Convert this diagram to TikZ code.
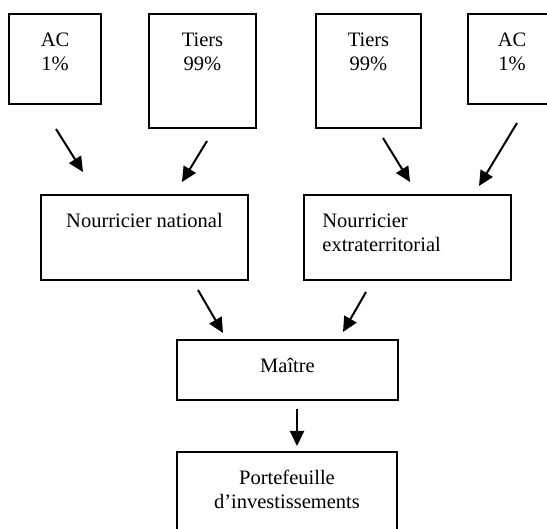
\documentclass[tikz,border=0pt]{standalone}
\usepackage{fontspec}
\setmainfont{Liberation Serif}
\usetikzlibrary{arrows.meta,calc}
\begin{document}
\begin{tikzpicture}[x=0.5pt,y=-0.5pt,line join=miter,>={Triangle[length=7.5pt,width=7pt]}]
	\tikzset{every node/.style={font=\fontsize{10.25}{12}\selectfont},
		box/.style={draw,line width=1pt,inner sep=0pt},
		txt/.style={anchor=base,align=center,inner sep=0pt},
		fleche/.style={->,line width=1pt}}
	\useasboundingbox (0,0) rectangle (547,529);
	\clip (0,0) rectangle (547,529);
	% boites
	\node[box,minimum width=46pt,minimum height=45pt] (ac1) at (55,59) {};
	\node[box,minimum width=53.5pt,minimum height=57pt] (tiers1) at (202.5,71) {};
	\node[box,minimum width=52.5pt,minimum height=57pt] (tiers2) at (368.5,71) {};
	\node[box,minimum width=44pt,minimum height=45pt] (ac2) at (512,59) {};
	\node[box,minimum width=103.5pt,minimum height=42.5pt] (nat) at (144.5,237.5) {};
	\node[box,minimum width=103.5pt,minimum height=42.5pt] (ext) at (407.5,237.5) {};
	\node[box,minimum width=110.5pt,minimum height=30pt] (maitre) at (287.5,370) {};
	\node[box,minimum width=110pt,minimum height=55pt] (port) at (287,507) {};
	% textes (base = derniere ligne)
	\node[txt] (t-ac1) at ($(ac1.north)+(0,58)$) {AC\\1\%};
	\node[txt] (t-tiers1) at ($(tiers1.north)+(0,58)$) {Tiers\\99\%};
	\node[txt] (t-tiers2) at ($(tiers2.north)+(0,58)$) {Tiers\\99\%};
	\node[txt] (t-ac2) at ($(ac2.north)+(0,58)$) {AC\\1\%};
	\node[txt] (t-nat) at ($(nat.north)+(0,34)$) {Nourricier national};
	\node[txt,anchor=base west,align=left] (t-ext) at ($(ext.north west)+(19,58)$) {Nourricier\\extraterritorial};
	\node[txt] (t-maitre) at ($(maitre.north)+(0,34)$) {Maître};
	\node[txt] (t-port) at ($(port.north)+(0,58)$) {Portefeuille\\d’investissements};
	% fleches
	\draw[fleche] ($(ac1.south)+(1,24)$) -- ($(nat.north)+(-61.5,-22)$);
	\draw[fleche] ($(tiers1.south)+(4.5,12)$) -- ($(nat.north)+(37.5,-12)$);
	\draw[fleche] ($(tiers2.south)+(14.5,9)$) -- ($(ext.north)+(2.5,-12)$);
	\draw[fleche] ($(ac2.south)+(5,18)$) -- ($(ext.north)+(71.5,-8)$);
	\draw[fleche] ($(nat.south)+(53.5,9)$) -- ($(maitre.north)+(-64.5,-6)$);
	\draw[fleche] ($(ext.south)+(-41.5,11)$) -- ($(maitre.north)+(55.5,-7)$);
	\draw[fleche] ($(maitre.south)+(9.5,8)$) -- ($(port.north)+(10,-5)$);
\end{tikzpicture}
\end{document}
